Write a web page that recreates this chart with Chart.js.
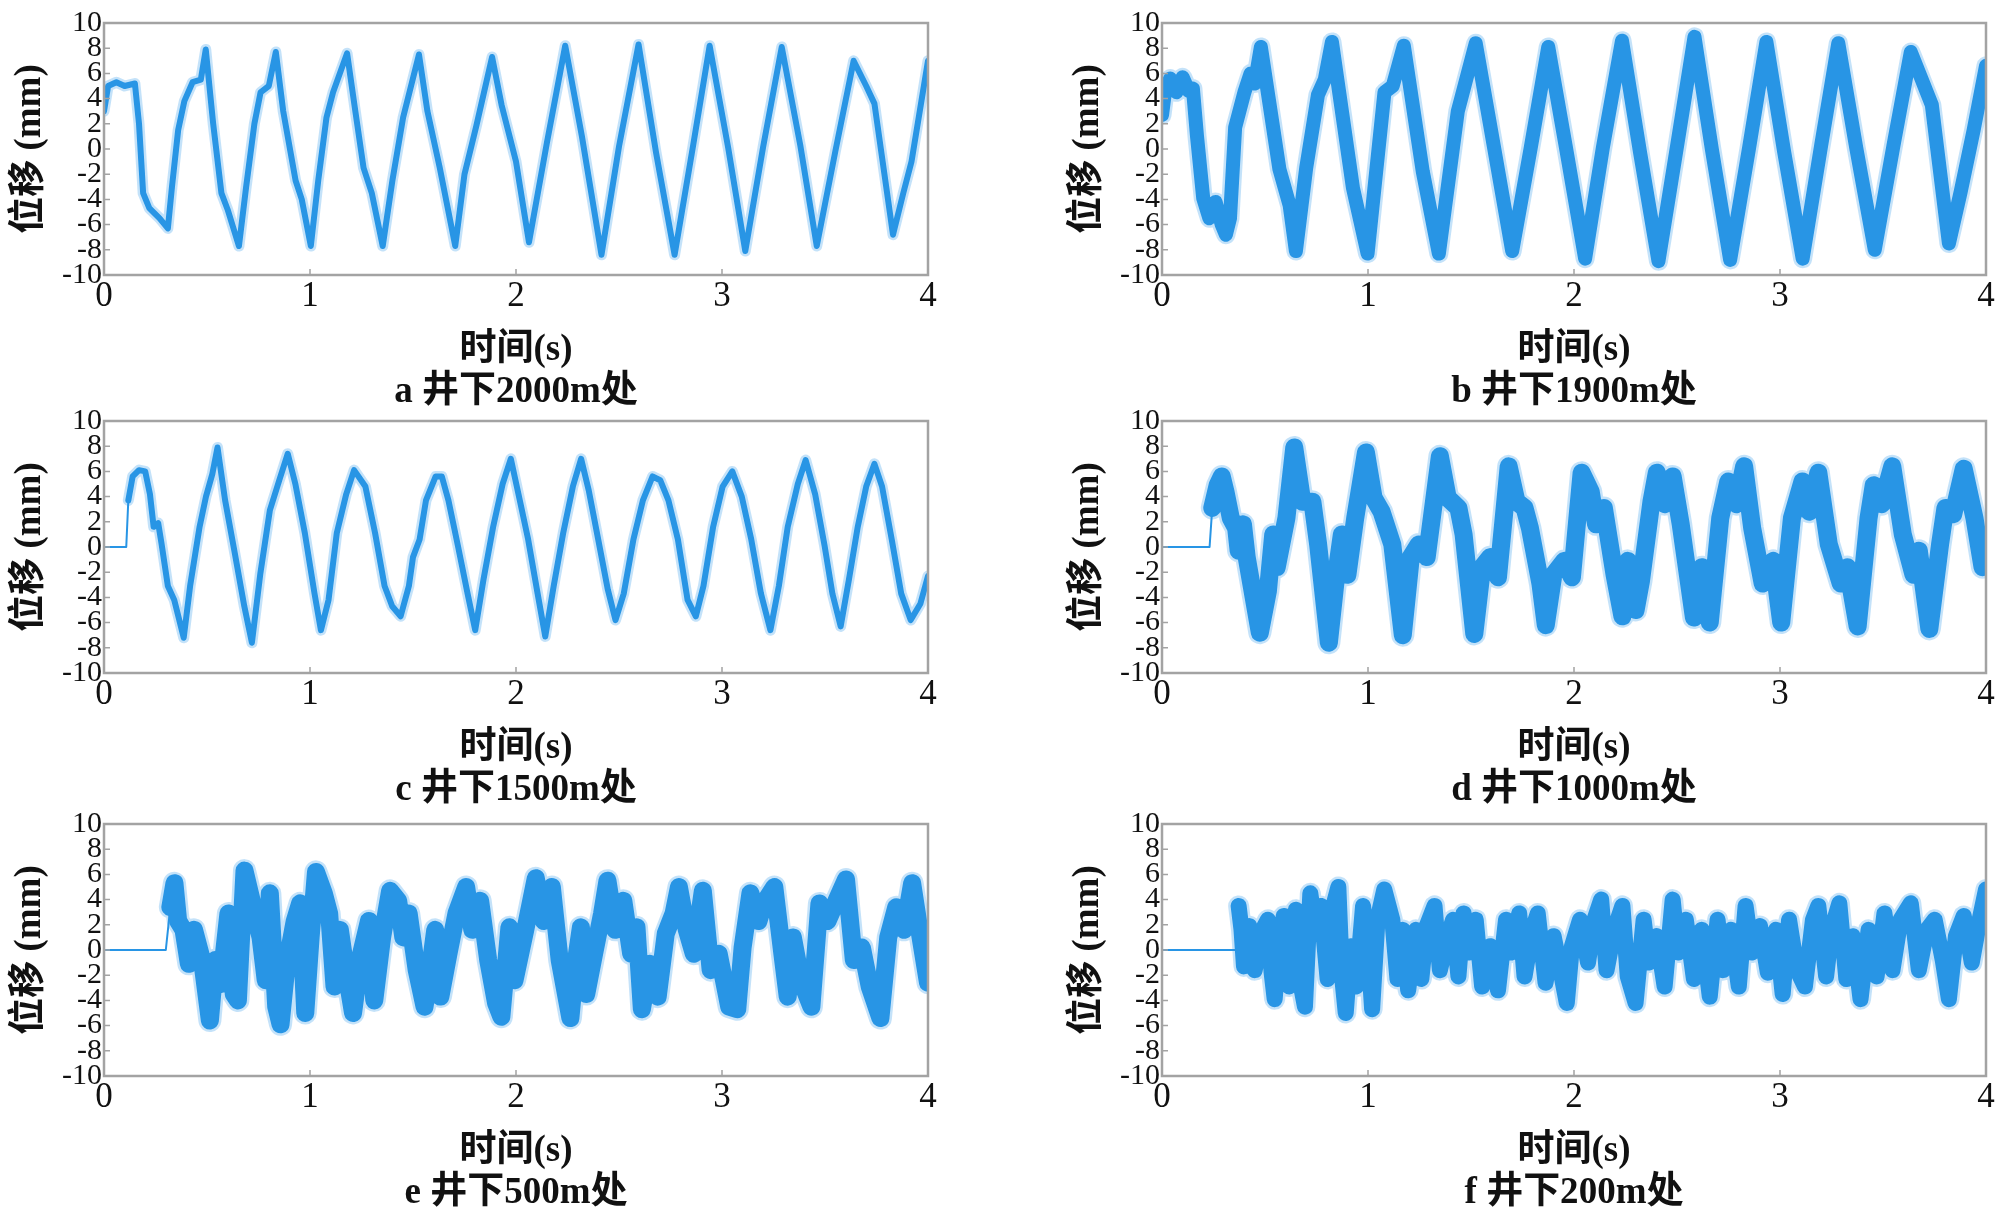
<!DOCTYPE html>
<html>
<head>
<meta charset="utf-8">
<script src="https://cdn.jsdelivr.net/npm/chart.js@4.4.1/dist/chart.umd.min.js"></script>
<style>
  body { margin: 0; background: #fff; overflow: hidden; }
  .panel { position: absolute; }
</style>
</head>
<body>
<div id="wrap"></div>
<script>
// === DATA (time in s, displacement in mm) ===
const xTicks = [0, 1, 2, 3, 4];
const yTicks = [-10, -8, -6, -4, -2, 0, 2, 4, 6, 8, 10];

// a 井下2000m处
const tA = [0, 0.02, 0.06, 0.10, 0.15, 0.17, 0.19, 0.22, 0.27, 0.31, 0.33, 0.36, 0.39, 0.43, 0.47, 0.494, 0.53, 0.57, 0.60, 0.655, 0.69, 0.73, 0.76, 0.80, 0.834, 0.87, 0.93, 0.96, 1.004, 1.04, 1.08, 1.112, 1.18, 1.22, 1.26, 1.30, 1.353, 1.40, 1.452, 1.529, 1.57, 1.63, 1.705, 1.75, 1.807, 1.884, 1.93, 2.00, 2.063, 2.15, 2.239, 2.32, 2.415, 2.50, 2.595, 2.68, 2.77, 2.86, 2.94, 3.03, 3.113, 3.20, 3.29, 3.38, 3.46, 3.55, 3.639, 3.70, 3.74, 3.83, 3.88, 3.92, 4.0];
const vA = [3.0, 5.0, 5.3, 5.0, 5.2, 2.0, -3.5, -4.7, -5.5, -6.3, -3.0, 1.5, 3.8, 5.3, 5.5, 7.9, 2.0, -3.5, -4.8, -7.7, -3.0, 2.0, 4.5, 5.0, 7.7, 3.0, -2.5, -4.0, -7.7, -2.5, 2.5, 4.5, 7.6, 3.0, -1.5, -3.5, -7.7, -2.5, 2.5, 7.5, 3.0, -1.5, -7.7, -2.0, 1.8, 7.3, 3.5, -1.0, -7.4, 0.5, 8.2, 1.0, -8.4, 0.2, 8.3, -0.3, -8.4, 0.3, 8.2, 0.1, -8.1, 0.2, 8.1, 0.3, -7.7, -0.2, 7.0, 5.0, 3.6, -6.8, -3.5, -1.0, 7.0];

// b 井下1900m处
const tB = [0, 0.015, 0.04, 0.07, 0.10, 0.13, 0.15, 0.17, 0.20, 0.23, 0.26, 0.29, 0.31, 0.33, 0.355, 0.40, 0.43, 0.45, 0.48, 0.57, 0.62, 0.65, 0.70, 0.757, 0.79, 0.825, 0.927, 0.998, 1.08, 1.12, 1.174, 1.266, 1.344, 1.436, 1.523, 1.61, 1.70, 1.79, 1.875, 1.96, 2.054, 2.14, 2.233, 2.32, 2.41, 2.50, 2.585, 2.67, 2.758, 2.85, 2.934, 3.02, 3.11, 3.20, 3.283, 3.37, 3.46, 3.55, 3.635, 3.737, 3.82, 3.877, 3.94, 4.0];
const vB = [2.7, 4.6, 5.6, 4.5, 5.7, 4.6, 4.8, 1.0, -3.9, -5.5, -4.2, -6.0, -6.8, -5.5, 1.7, 4.5, 6.0, 5.2, 8.1, -1.6, -4.5, -8.1, -1.5, 4.3, 5.5, 8.5, -3.1, -8.3, 4.5, 5.0, 8.2, -1.8, -8.3, 3.0, 8.4, 0.3, -8.1, 0.1, 8.1, 0.2, -8.7, 0.1, 8.6, -0.2, -8.9, 0.2, 8.9, -0.1, -8.8, 0.1, 8.5, -0.2, -8.7, 0.3, 8.4, 0.1, -8.0, 0.2, 7.7, 3.5, -7.5, -3.4, 1.5, 6.6];

// c 井下1500m处
const tC = [0, 0.108, 0.118, 0.139, 0.17, 0.20, 0.223, 0.241, 0.263, 0.279, 0.31, 0.341, 0.387, 0.418, 0.464, 0.495, 0.526, 0.551, 0.588, 0.635, 0.681, 0.718, 0.759, 0.805, 0.851, 0.892, 0.929, 0.975, 1.022, 1.053, 1.09, 1.13, 1.176, 1.214, 1.269, 1.316, 1.362, 1.399, 1.44, 1.48, 1.50, 1.532, 1.563, 1.61, 1.64, 1.672, 1.718, 1.765, 1.802, 1.842, 1.889, 1.935, 1.975, 2.012, 2.059, 2.105, 2.142, 2.183, 2.229, 2.276, 2.316, 2.353, 2.399, 2.446, 2.483, 2.523, 2.57, 2.616, 2.663, 2.70, 2.74, 2.786, 2.833, 2.873, 2.91, 2.957, 3.003, 3.05, 3.096, 3.142, 3.189, 3.235, 3.276, 3.319, 3.368, 3.406, 3.452, 3.498, 3.536, 3.576, 3.616, 3.659, 3.70, 3.74, 3.777, 3.824, 3.87, 3.916, 3.963, 4.0];
const vC = [0, 0, 3.7, 5.6, 6.1, 6.0, 4.2, 1.6, 1.9, 0.3, -3.1, -4.2, -7.2, -3.1, 1.6, 4.0, 5.8, 7.9, 3.7, -0.5, -4.7, -7.6, -2.1, 2.9, 5.3, 7.4, 5.0, 1.1, -3.7, -6.6, -4.2, 1.1, 4.2, 6.1, 4.8, 1.1, -3.1, -4.7, -5.5, -3.1, -0.8, 0.6, 3.7, 5.6, 5.6, 3.7, 0.1, -3.7, -6.6, -2.6, 1.6, 5.0, 7.0, 4.2, 0.6, -3.7, -7.1, -3.1, 1.1, 4.8, 7.0, 4.5, 0.6, -3.4, -5.8, -3.7, 0.6, 3.7, 5.6, 5.3, 3.7, 0.6, -4.2, -5.5, -3.1, 1.6, 4.8, 6.0, 4.0, 0.6, -3.7, -6.6, -3.1, 1.6, 5.0, 6.9, 4.2, 0.1, -3.7, -6.3, -2.6, 1.6, 4.8, 6.6, 4.8, 0.6, -3.7, -5.8, -4.5, -2.3];

// d 井下1000m处
const tD = [0, 0.231, 0.244, 0.27, 0.29, 0.308, 0.334, 0.36, 0.372, 0.393, 0.411, 0.475, 0.514, 0.54, 0.557, 0.604, 0.642, 0.681, 0.73, 0.758, 0.81, 0.848, 0.873, 0.90, 0.938, 0.99, 1.027, 1.066, 1.118, 1.169, 1.208, 1.246, 1.285, 1.349, 1.387, 1.439, 1.464, 1.516, 1.554, 1.593, 1.631, 1.683, 1.721, 1.76, 1.786, 1.837, 1.863, 1.90, 1.953, 1.99, 2.037, 2.081, 2.107, 2.145, 2.197, 2.235, 2.261, 2.299, 2.325, 2.376, 2.402, 2.44, 2.479, 2.518, 2.582, 2.62, 2.659, 2.71, 2.749, 2.788, 2.826, 2.865, 2.916, 2.967, 3.006, 3.058, 3.109, 3.142, 3.186, 3.237, 3.295, 3.327, 3.377, 3.43, 3.455, 3.494, 3.545, 3.596, 3.648, 3.674, 3.725, 3.777, 3.803, 3.841, 3.892, 3.944, 3.983, 4.0];
const vD = [0, 0, 3.1, 4.9, 5.6, 4.4, 2.3, 1.5, -0.3, 1.8, -0.8, -6.8, -3.5, 1.0, -1.6, 2.3, 7.9, 3.6, 3.6, 0.2, -7.6, -1.9, 1.0, -2.2, 2.3, 7.5, 3.9, 2.8, 0.2, -7.0, -0.8, 0.2, -0.8, 7.2, 3.9, 3.1, 1.0, -6.9, -1.6, -0.8, -2.4, 6.4, 3.6, 3.1, 1.5, -2.9, -6.2, -2.2, -1.1, -2.4, 5.9, 4.4, 1.8, 3.1, -2.2, -5.5, -1.1, -5.0, -2.7, 3.6, 5.9, 3.4, 5.6, 1.8, -5.6, -1.6, -6.0, 2.3, 5.2, 3.4, 6.4, 1.5, -2.9, -1.1, -6.0, 2.3, 5.2, 2.8, 5.9, 0.2, -2.9, -1.6, -6.3, 2.3, 4.9, 3.4, 6.4, 1.0, -2.2, -0.3, -6.5, 0.2, 3.1, 2.6, 6.2, 2.3, -1.6, -0.8];

// e 井下500m处
const tE = [0, 0.30, 0.322, 0.342, 0.36, 0.386, 0.412, 0.437, 0.476, 0.514, 0.54, 0.566, 0.604, 0.63, 0.65, 0.682, 0.72, 0.76, 0.785, 0.805, 0.836, 0.857, 0.887, 0.926, 0.952, 0.977, 1.003, 1.029, 1.067, 1.093, 1.119, 1.145, 1.171, 1.209, 1.248, 1.286, 1.312, 1.35, 1.389, 1.428, 1.453, 1.479, 1.518, 1.556, 1.582, 1.608, 1.633, 1.672, 1.711, 1.758, 1.788, 1.826, 1.865, 1.903, 1.929, 1.968, 1.993, 2.045, 2.096, 2.135, 2.174, 2.212, 2.264, 2.289, 2.315, 2.341, 2.379, 2.418, 2.444, 2.482, 2.521, 2.559, 2.585, 2.611, 2.649, 2.688, 2.727, 2.765, 2.791, 2.829, 2.863, 2.907, 2.945, 2.984, 3.035, 3.074, 3.10, 3.138, 3.177, 3.203, 3.254, 3.293, 3.319, 3.344, 3.383, 3.434, 3.473, 3.512, 3.55, 3.602, 3.64, 3.679, 3.717, 3.769, 3.807, 3.846, 3.884, 3.923, 3.961, 4.0];
const vE = [0, 0, 3.4, 5.3, 2.3, 1.6, -1.1, 1.6, -0.8, -5.6, -0.8, -2.7, 2.9, -3.5, -4.0, 6.3, 3.7, 1.0, -2.4, 4.5, -4.5, -5.9, -1.1, 2.3, 3.7, -5.0, 1.0, 6.2, 4.5, 2.9, -2.9, 1.6, -1.3, -5.0, -0.3, 2.3, -4.0, 1.0, 4.7, 3.9, 1.0, 2.9, -1.6, -4.5, -1.6, 1.6, -3.7, -0.3, 2.9, 5.0, 1.6, 3.9, -0.8, -4.2, -5.3, 1.8, -2.4, 1.6, 5.7, 2.3, 5.0, -0.8, -5.4, -1.1, 1.8, -3.5, -0.3, 2.9, 5.5, 1.6, 3.9, -0.3, 1.8, -4.7, -1.1, -3.7, 1.3, 2.9, 5.0, 1.6, -0.3, 4.7, -1.6, -0.3, -4.5, -4.7, 0.2, 4.5, 2.3, 3.7, 5.0, -0.3, -3.7, 1.0, -2.4, -4.5, 3.7, 2.3, 3.7, 5.6, -0.8, 0.2, -2.9, -5.4, 1.0, 3.4, 1.6, 5.3, 1.3, -2.6];

// f 井下200m处
const tF = [0, 0.36, 0.372, 0.386, 0.398, 0.424, 0.45, 0.488, 0.514, 0.532, 0.547, 0.565, 0.591, 0.617, 0.65, 0.675, 0.694, 0.72, 0.745, 0.771, 0.804, 0.822, 0.856, 0.874, 0.892, 0.917, 0.943, 0.976, 1.002, 1.02, 1.046, 1.079, 1.118, 1.143, 1.169, 1.195, 1.233, 1.259, 1.285, 1.323, 1.349, 1.387, 1.413, 1.439, 1.464, 1.49, 1.523, 1.554, 1.593, 1.631, 1.67, 1.696, 1.734, 1.76, 1.798, 1.824, 1.862, 1.901, 1.927, 1.965, 1.99, 2.029, 2.068, 2.099, 2.132, 2.158, 2.196, 2.235, 2.261, 2.299, 2.338, 2.364, 2.402, 2.44, 2.479, 2.505, 2.543, 2.582, 2.62, 2.659, 2.697, 2.723, 2.762, 2.80, 2.833, 2.864, 2.903, 2.941, 2.98, 3.013, 3.044, 3.083, 3.121, 3.16, 3.186, 3.224, 3.25, 3.288, 3.322, 3.353, 3.391, 3.43, 3.469, 3.507, 3.546, 3.585, 3.635, 3.674, 3.713, 3.751, 3.79, 3.82, 3.854, 3.892, 3.931, 3.969, 4.0];
const vF = [0, 0, 3.5, 1.6, -1.3, 1.9, -1.6, 1.6, 2.4, -1.8, -3.9, -0.2, 2.7, -2.9, 3.2, -2.9, -4.5, 4.5, 1.6, 3.5, -2.3, 2.9, 5.0, -2.1, -5.0, 0.3, -2.9, 3.5, -0.2, -4.7, 2.4, 4.8, 2.4, -2.3, 1.6, -3.2, 1.6, -2.3, 1.9, 3.5, -1.6, 1.1, 2.4, -2.1, 2.9, -0.2, 2.4, -2.9, 0.3, -3.2, 2.4, -0.2, 2.9, -2.1, 1.6, 2.9, -2.6, 1.1, -1.0, -4.2, 0.3, 2.4, -1.0, 2.4, 4.0, -1.6, 1.6, 3.5, -2.1, -4.2, 2.4, -1.0, 1.1, -2.9, 4.0, -0.2, 2.4, -2.3, 1.6, -3.7, 2.4, -1.6, 1.6, -2.9, 3.5, -0.2, 1.9, -1.8, 1.6, -3.5, 2.4, -1.6, -2.9, 2.4, 3.5, -2.1, 1.6, 3.7, -2.3, 1.1, -3.9, 1.6, -2.1, 2.9, -1.6, 2.4, 3.7, -1.6, 1.6, 2.4, -0.8, -3.9, 1.1, 2.7, -1.0, 2.4, 4.8];

const captions = ["a 井下2000m处", "b 井下1900m处", "c 井下1500m处", "d 井下1000m处", "e 井下500m处", "f 井下200m处"];

// === LAYOUT ===
const TRACE = "rgb(40, 149, 229)";
const HALO = "rgba(60, 160, 235, 0.3)";
const FRAME = "#a3a3a3";
const SERIF = '"Liberation Serif", "Times New Roman", "Noto Sans CJK SC", serif';
const colLeft = [0, 1058];
const rowTop = [0, 398, 801];
const CANVAS_W = 940;
const CANVAS_H = 413;

const panels = [
  { t: tA, v: vA, width: 6, col: 0, row: 0 },
  { t: tB, v: vB, width: 14, col: 1, row: 0 },
  { t: tC, v: vC, width: 6, col: 0, row: 1 },
  { t: tD, v: vD, width: 18, col: 1, row: 1 },
  { t: tE, v: vE, width: 18, col: 0, row: 2 },
  { t: tF, v: vF, width: 16, col: 1, row: 2 }
];

// frame around the plot + small inward ticks
const framePlugin = {
  id: "frame",
  afterDatasetsDraw(chart) {
    const { ctx, chartArea: a, scales: { x, y } } = chart;
    ctx.save();
    ctx.strokeStyle = FRAME;
    ctx.lineWidth = 2.5;
    ctx.strokeRect(a.left, a.top, a.right - a.left, a.bottom - a.top);
    ctx.lineWidth = 1.5;
    ctx.beginPath();
    x.ticks.forEach(tk => {
      const px = x.getPixelForValue(tk.value);
      ctx.moveTo(px, a.bottom);
      ctx.lineTo(px, a.bottom - 6);
    });
    y.ticks.forEach(tk => {
      const py = y.getPixelForValue(tk.value);
      ctx.moveTo(a.left, py);
      ctx.lineTo(a.left + 6, py);
    });
    ctx.stroke();
    ctx.restore();
  }
};

const quiet = ctx => ctx.p0.parsed.y === 0;

const wrap = document.getElementById("wrap");

panels.forEach((p, i) => {
  const box = document.createElement("div");
  box.className = "panel";
  box.style.left = colLeft[p.col] + "px";
  box.style.top = rowTop[p.row] + "px";
  const canvas = document.createElement("canvas");
  canvas.width = CANVAS_W;
  canvas.height = CANVAS_H;
  box.appendChild(canvas);
  wrap.appendChild(box);

  const points = p.t.map((t, k) => ({ x: t, y: p.v[k] }));

  new Chart(canvas.getContext("2d"), {
    type: "line",
    data: {
      datasets: [{
        data: points,
        borderColor: TRACE,
        borderWidth: p.width,
        borderJoinStyle: "round",
        borderCapStyle: "round",
        pointRadius: 0,
        tension: 0,
        fill: false,
        clip: 0,
        segment: {
          // quiet part before the wave arrives is a thin line
          borderWidth: ctx => (quiet(ctx) ? 2 : undefined)
        }
      }, {
        // soft fuzzy edge of the noisy trace
        data: points,
        borderColor: HALO,
        borderWidth: p.width + 5,
        borderJoinStyle: "round",
        borderCapStyle: "round",
        pointRadius: 0,
        tension: 0,
        fill: false,
        clip: 0,
        segment: {
          borderColor: ctx => (quiet(ctx) ? "rgba(0,0,0,0)" : undefined)
        }
      }]
    },
    options: {
      responsive: false,
      devicePixelRatio: 1,
      animation: false,
      events: [],
      layout: { padding: { top: 23, right: 12, bottom: 0, left: 0 } },
      plugins: { legend: { display: false }, tooltip: { enabled: false } },
      scales: {
        x: {
          type: "linear",
          min: 0,
          max: 4,
          afterBuildTicks: s => { s.ticks = xTicks.map(v => ({ value: v })); },
          afterFit: s => { s.height = CANVAS_H - 275; },
          grid: { display: false, drawTicks: false },
          border: { display: false },
          ticks: {
            autoSkip: false,
            maxRotation: 0,
            padding: 1,
            color: "#111",
            font: { family: SERIF, size: 35 },
            callback: v => String(v)
          },
          title: {
            display: true,
            text: ["时间(s)", captions[i]],
            color: "#111",
            padding: { top: 0, bottom: 0 },
            font: { family: SERIF, size: 37, weight: "bold", lineHeight: 1.12 }
          }
        },
        y: {
          min: -10,
          max: 10,
          afterBuildTicks: s => { s.ticks = yTicks.map(v => ({ value: v })); },
          afterFit: s => { s.width = 104; },
          grid: { display: false, drawTicks: false },
          border: { display: false },
          ticks: {
            autoSkip: false,
            padding: 2,
            color: "#111",
            font: { family: SERIF, size: 30 },
            callback: v => String(v)
          },
          title: {
            display: true,
            text: "位移 (mm)",
            color: "#111",
            padding: { top: 8, bottom: 0 },
            font: { family: SERIF, size: 37, weight: "bold", lineHeight: 1.2 }
          }
        }
      }
    },
    plugins: [framePlugin]
  });
});
</script>
</body>
</html>
